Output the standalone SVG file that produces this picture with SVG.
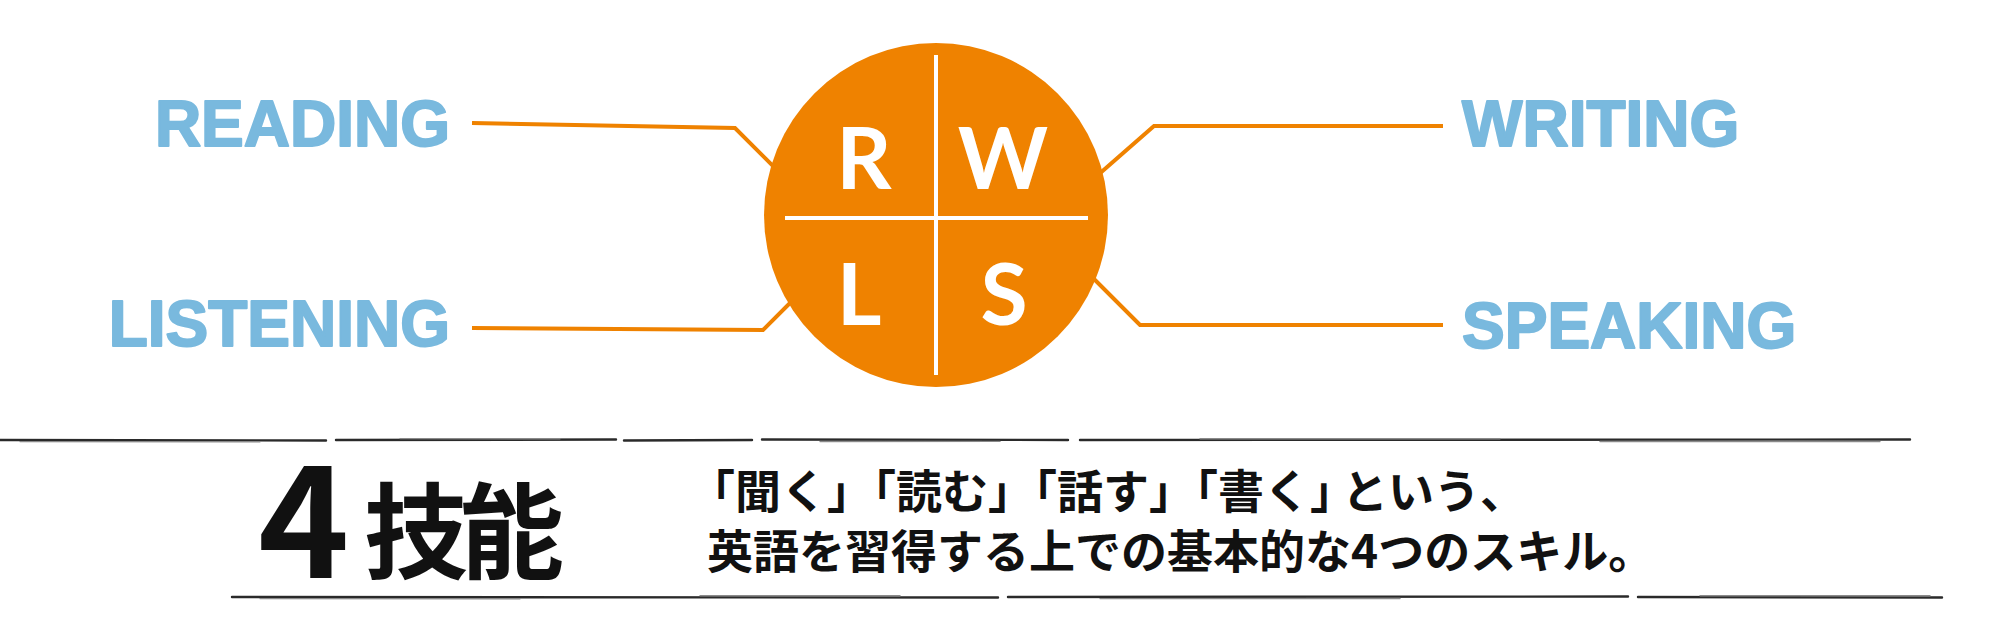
<svg xmlns="http://www.w3.org/2000/svg" width="1990" height="641" viewBox="0 0 1990 641">
<style>
.lbl{font-family:"Liberation Sans",Arial,sans-serif;font-weight:700;font-size:64px;fill:#79b9de;stroke:#79b9de;stroke-width:2;stroke-linejoin:round}
.conn{fill:none;stroke:#ef8200;stroke-width:4}
.letter{font-family:Lato,"Open Sans",sans-serif;font-weight:700;font-size:86px;fill:#fff;text-anchor:middle}
.cross{stroke:#fff;stroke-width:4}
.jp{font-family:"Noto Sans CJK JP","Noto Sans CJK SC",sans-serif;font-weight:700;fill:#111;text-spacing-trim:space-all}
.rule{fill:none;stroke:#2a2a2a;stroke-linecap:round}
.rule2{fill:none;stroke:#8a8a8a;stroke-linecap:round}
</style>
<rect width="1990" height="641" fill="#fff"/>
<g id="connectors">
<polyline class="conn" points="472,123 735,128 790,183"/>
<polyline class="conn" points="472,328 763,330 800,293"/>
<polyline class="conn" points="1443,126 1154,126 1090,182"/>
<polyline class="conn" points="1443,325 1140,325 1085,270"/>
</g>
<g id="skills-circle">
<circle cx="936" cy="215" r="172" fill="#ef8200"/>
<line class="cross" x1="936" y1="55" x2="936" y2="375"/>
<line class="cross" x1="785" y1="218" x2="1088" y2="218"/>
<text class="letter" x="864" y="189">R</text>
<text class="letter" x="1003" y="189">W</text>
<text class="letter" x="859" y="325">L</text>
<text class="letter" x="1004" y="325">S</text>
</g>
<g id="label-reading"><text class="lbl" x="450" y="146" text-anchor="end">READING</text></g>
<g id="label-listening"><text class="lbl" x="450" y="346" text-anchor="end">LISTENING</text></g>
<g id="label-writing"><text class="lbl" x="1462" y="146">WRITING</text></g>
<g id="label-speaking"><text class="lbl" x="1462" y="348">SPEAKING</text></g>
<g id="rules">
<path class="rule" stroke-width="2.4" d="M0,440 L326,440.5 M336,440 L616,439.5 M624,440.5 L752,440 M762,439.5 L1068,440 M1080,440 L1910,439.5"/>
<path class="rule2" stroke-width="1.4" d="M20,441.6 L260,441.8 M400,438.6 L560,438.8 M820,441.6 L1000,441.4 M1200,438.7 L1500,438.8 M1600,441.5 L1880,441.6"/>
<path class="rule" stroke-width="2.4" d="M232,597 L998,597.5 M1008,597 L1628,596.5 M1638,597 L1942,597.5"/>
<path class="rule2" stroke-width="1.4" d="M260,598.6 L520,598.8 M700,595.6 L900,595.8 M1100,598.6 L1400,598.5 M1700,595.7 L1930,595.8"/>
</g>
<g id="title">
<text class="jp" x="258" y="578" font-size="155">4</text>
<text class="jp" x="364" y="571" font-size="104" letter-spacing="-8">技能</text>
</g>
<g id="description">
<text class="jp" font-size="46" x="689" y="508" dx="0 0 0 0 -23 0 0 0 -23 0 0 0 -23 0 0 0 -14">「聞く」「読む」「話す」「書く」という、</text>
<text class="jp" font-size="46" x="707" y="568">英語を習得する上での基本的な4つのスキル。</text>
</g>
</svg>
